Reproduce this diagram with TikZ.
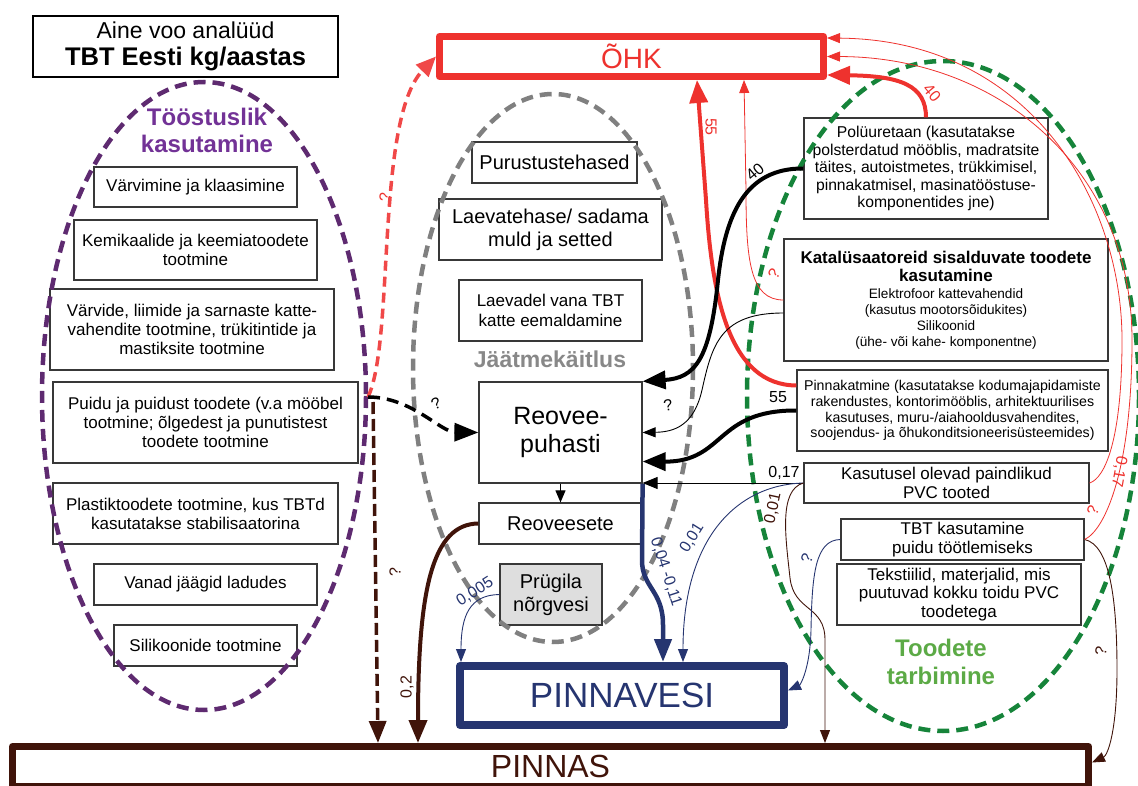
\documentclass[tikz,border=0pt]{standalone}
\usepackage{fontspec}
\setmainfont{Liberation Sans}
\usetikzlibrary{arrows.meta}
\definecolor{ohkred}{RGB}{238,50,46}
\definecolor{reddash}{RGB}{240,72,72}
\definecolor{navy}{RGB}{38,53,112}
\definecolor{soilbrown}{RGB}{64,20,10}
\definecolor{grn}{RGB}{22,132,58}
\definecolor{grntext}{RGB}{92,170,70}
\definecolor{prp}{RGB}{94,42,112}
\definecolor{prptext}{RGB}{114,50,150}
\definecolor{wastegray}{RGB}{128,128,128}
\definecolor{wastetext}{RGB}{136,136,136}
\definecolor{leachfill}{RGB}{222,222,222}
\newcommand\setsz[2]{\fontsize{#1}{#2}\selectfont}
\tikzset{
  box/.style={draw=black!78, line width=1.2pt, fill=white, align=center, inner sep=0pt},
  sink/.style={draw=#1, text=#1, fill=white, inner sep=0pt, line join=round},
  lbl/.style={inner sep=1pt, font=\setsz{16}{18}},
  bighead/.style={-{Triangle[length=23pt,width=18pt]}},
  smallhead/.style={-{Triangle[length=13pt,width=10pt]}},
  thickflow/.style={line width=4pt, bighead},
  thinflow/.style={line width=0.9pt, smallhead},
  zone/.style={dash pattern=on 12pt off 7pt, line width=4.5pt},
}
\begin{document}
\begin{tikzpicture}[x=1pt,y=-1pt]
\useasboundingbox (0,0) rectangle (1138,786);

% heading
\node[box, draw=black, minimum width=305pt, minimum height=61pt, font=\setsz{23}{26.5}] (title) at (185.5,46.5)
  {Aine voo analüüd\\{\bfseries\setsz{25.5}{26.5}TBT Eesti kg/aastas}};

% receiving compartments
\node[sink=ohkred, line width=7pt, minimum width=384pt, minimum height=40pt, font=\setsz{28}{30}] (ohk) at (631.5,56.5) {ÕHK};
\node[sink=navy, line width=8pt, minimum width=324pt, minimum height=59pt, font=\setsz{35}{38}] (pw) at (622,695.5) {PINNAVESI};
\node[sink=soilbrown, line width=7pt, minimum width=1076pt, minimum height=40pt, font=\setsz{32}{34}] (pinnas) at (550.5,766.5) {PINNAS};

% industrial use
\begin{scope}[every node/.append style={font=\setsz{17}{19}}]
\node[box, minimum width=203pt, minimum height=40pt] (v1) at (195.5,187) {Värvimine ja klaasimine};
\node[box, minimum width=243pt, minimum height=60pt] (v2) at (195.5,250) {Kemikaalide ja keemiatoodete\\tootmine};
\node[box, minimum width=284pt, minimum height=81pt] (v3) at (192,329.5) {Värvide, liimide ja sarnaste katte-\\vahendite tootmine, trükitintide ja\\mastiksite tootmine};
\node[box, minimum width=305pt, minimum height=81pt] (v4) at (205.5,422.5) {Puidu ja puidust toodete (v.a mööbel\\tootmine; õlgedest ja punutistest\\toodete tootmine};
\node[box, minimum width=285pt, minimum height=61pt] (v5) at (195.5,513.5) {Plastiktoodete tootmine, kus TBTd\\kasutatakse stabilisaatorina};
\node[box, minimum width=223pt, minimum height=41pt] (v6) at (205.5,584.5) {Vanad jäägid ladudes};
\node[box, minimum width=183pt, minimum height=41pt] (v7) at (205.5,645.5) {Silikoonide tootmine};
\end{scope}

% waste handling
\node[box, minimum width=165pt, minimum height=41pt, font=\setsz{20}{22}] (pu) at (554.5,162.5) {Purustustehased};
\node[box, minimum width=223pt, minimum height=61pt, font=\setsz{20}{23}] (lt) at (550.5,229.5) {Laevatehase/ sadama\\muld ja setted};
\node[box, minimum width=183pt, minimum height=61pt, font=\setsz{17}{20}] (lv) at (550.5,310.5) {Laevadel vana TBT\\katte eemaldamine};
\node[box, minimum width=163pt, minimum height=101pt, font=\setsz{25}{28}] (rp) at (560.5,432.5) {Reovee-\\puhasti};
\node[box, minimum width=163pt, minimum height=41pt, font=\setsz{20}{22}] (rs) at (560.5,523.5) {Reoveesete};
\node[box, fill=leachfill, minimum width=102pt, minimum height=61pt, font=\setsz{20}{23}] (pr) at (551,594.5) {Prügila\\nõrgvesi};

% product use
\node[box, minimum width=244pt, minimum height=101pt, font=\setsz{15.7}{17.5}] (pol) at (926,168.5)
  {Polüuretaan (kasutatakse\\polsterdatud mööblis, madratsite\\täites, autoistmetes, trükkimisel,\\pinnakatmisel, masinatööstuse-\\komponentides jne)};
\node[box, minimum width=324pt, minimum height=122pt, font=\setsz{13.6}{16}] (kat) at (946,300)
  {{\bfseries\setsz{17}{18}Katalüsaatoreid sisalduvate toodete}\\[2pt]{\bfseries\setsz{17}{18}kasutamine}\\[1pt]Elektrofoor kattevahendid\\(kasutus mootorsõidukites)\\Silikoonid\\(ühe- või kahe- komponentne)};
\node[box, minimum width=311pt, minimum height=81pt, font=\setsz{14.2}{15.8}] (pin) at (952.5,410.5)
  {Pinnakatmine (kasutatakse kodumajapidamiste\\rakendustes, kontorimööblis, arhitektuurilises\\kasutuses, muru-/aiahooldusvahendites,\\soojendus- ja õhukonditsioneerisüsteemides)};
\node[box, minimum width=285pt, minimum height=40pt, font=\setsz{17}{18.5}] (kas) at (946.5,483) {Kasutusel olevad paindlikud\\PVC tooted};
\node[box, minimum width=243pt, minimum height=41pt, font=\setsz{17}{18.5}] (tbt) at (962.5,539.5) {TBT kasutamine\\puidu töötlemiseks};
\node[box, minimum width=244pt, minimum height=61pt, font=\setsz{17}{18.5}] (tek) at (959,594.5) {Tekstiilid, materjalid, mis\\puutuvad kokku toidu PVC\\toodetega};

% group outlines
\draw[zone, prp] (204,396) ellipse [x radius=162, y radius=314];
\draw[zone, wastegray] (553,368) ellipse [x radius=140, y radius=274];
\draw[zone, grn] (943,396) ellipse [x radius=196, y radius=335];

\node[font=\bfseries\setsz{24}{27}, text=prptext, align=center, inner sep=0pt] (indlabel) at (207,130) {Tööstuslik\\kasutamine};
\node[font=\bfseries\setsz{23}{25}, text=wastetext, inner sep=0pt] (wastelabel) at (550,359) {Jäätmekäitlus};
\node[font=\bfseries\setsz{24}{28}, text=grntext, align=center, inner sep=0pt] (uselabel) at (941,662) {Toodete\\tarbimine};

% flows from the wood industry
\coordinate (pv) at (368,397);
\coordinate (pvb) at (373,402);
\draw[reddash, line width=3.5pt, dash pattern=on 10pt off 6pt, -{Triangle[length=20pt,width=17pt]}]
  (pv) .. controls (395,340) and (375,120) .. (ohk.west);
\draw[black, line width=3.5pt, dash pattern=on 12pt off 7pt, -{Triangle[length=24pt,width=18pt]}]
  (pv) .. controls (412,397) and (440,432) .. (rp.west);
\draw[soilbrown, line width=3.5pt, dash pattern=on 12pt off 5pt, -{Triangle[length=22pt,width=17pt]}]
  (pvb) -- ([xshift=-172.5pt]pinnas.north);

% sewage treatment
\draw[line width=1pt, -{Triangle[length=12pt,width=10pt]}] (rp.south) -- (rs.north);
\draw[soilbrown, thickflow] (rs.west) .. controls (432,524) and (418,590) .. ([xshift=-132.5pt]pinnas.north);
\draw[navy, line width=4.5pt, line join=round, -{Triangle[length=23pt,width=17pt]}]
  (rp.south east) -- (642,560) .. controls (642,588) and (663,590) .. (663,625) -- ([xshift=41pt]pw.north);
\draw[navy, thinflow] (pr.west) .. controls (470,595) and (461,615) .. ([xshift=-161pt]pw.north);

% flows from products in use
\draw[line width=1pt, -{Triangle[length=15pt,width=12pt]}] (kas.west) -- (kas.west -| rp.east);
\draw[navy, thinflow] (kas.west) .. controls (735,485) and (683,540) .. ([xshift=61pt]pw.north);
\draw[soilbrown, thinflow] (kas.west) .. controls (778,490) and (786,540) .. (790,578)
  .. controls (794,612) and (825,605) .. (825,640) -- ([xshift=274.5pt]pinnas.north);
\draw[navy, thinflow] (tbt.west) .. controls (815,540) and (812,575) .. (811,630)
  .. controls (810,670) and (800,685) .. ([yshift=5pt]pw.east);
\draw[soilbrown, thinflow] (tbt.east) .. controls (1110,545) and (1117,600) .. (1117,670)
  .. controls (1117,730) and (1108,755) .. ([yshift=4pt]pinnas.east);
\draw[ohkred, line width=0.8pt, smallhead] (kas.east) .. controls (1105,478) and (1122,440) .. (1122,340)
  .. controls (1122,200) and (1030,40) .. ([yshift=18.5pt]ohk.east);
\draw[ohkred, line width=0.8pt, smallhead] (tbt.east) .. controls (1105,530) and (1132,470) .. (1132,340)
  .. controls (1132,170) and (1000,57) .. (ohk.east);
\draw[ohkred, thickflow] ([yshift=25pt]pin.west) .. controls (730,385) and (712,300) .. (706,200) -- ([xshift=65.5pt]ohk.south);
\draw[ohkred, line width=0.8pt, smallhead] (kat.west) .. controls (750,300) and (746,260) .. (746,190) -- ([xshift=112.5pt]ohk.south);
\draw[ohkred, thickflow] (pol.north) .. controls (926,85) and (900,76) .. ([yshift=-18.5pt]ohk.east);
\draw[thickflow] (pol.west) .. controls (745,168) and (725,215) .. (718,280) .. controls (710,360) and (695,378) .. (rp.north east);
\draw[thinflow] ([yshift=-13pt]kat.west) .. controls (720,313) and (712,345) .. (702,390) .. controls (694,425) and (675,432) .. (rp.east);
\draw[thickflow] (pin.west) .. controls (715,410) and (725,462) .. ([yshift=-29pt]rp.east);

% flow quantities
\node[lbl, text=ohkred, rotate=90] (l1) at (385,197) {?};
\node[lbl, rotate=25] (l2) at (436,404) {?};
\node[lbl, text=soilbrown, rotate=90] (l3) at (395,572) {?};
\node[lbl, text=soilbrown, rotate=90] (l4) at (407,687) {0,2};
\node[lbl, text=navy, rotate=32] (l5) at (475,592) {0,005};
\node[lbl, text=navy, rotate=-72] (l6) at (666,572) {0,04 -0,11};
\node[lbl, text=navy, rotate=58] (l7) at (692,538) {0,01};
\node[lbl] (l8) at (784,473) {0,17};
\node[lbl, text=soilbrown, rotate=78] (l9) at (773,508) {0,01};
\node[lbl, text=navy, rotate=70] (l10) at (807,558) {?};
\node[lbl, text=soilbrown, rotate=80] (l11) at (1101,651) {?};
\node[lbl, text=ohkred, rotate=70] (l12) at (1093,510) {?};
\node[lbl, text=ohkred, rotate=-100] (l13) at (1119,472) {0,17};
\node[lbl, text=ohkred, rotate=-90] (l14) at (711,127) {55};
\node[lbl, text=ohkred, rotate=60] (l15) at (774,274) {?};
\node[lbl, text=ohkred, rotate=-50] (l16) at (932,93) {40};
\node[lbl, rotate=40] (l17) at (755,172) {40};
\node[lbl, rotate=10] (l18) at (668,405) {?};
\node[lbl] (l19) at (778,397) {55};
\end{tikzpicture}
\end{document}
